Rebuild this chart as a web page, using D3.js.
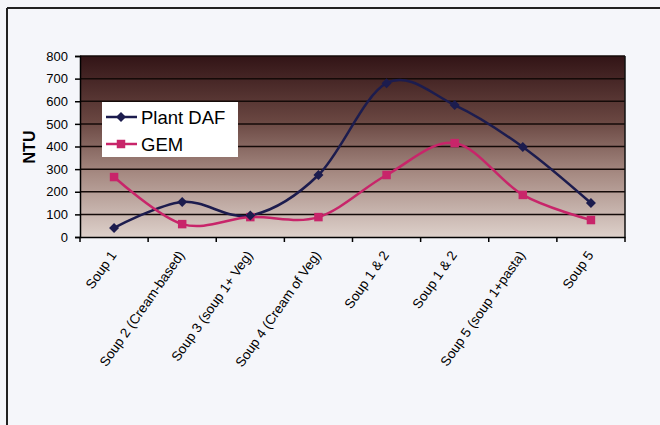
<!DOCTYPE html>
<html><head><meta charset="utf-8">
<script src="https://cdn.jsdelivr.net/npm/d3@7"></script>
<style>body{margin:0;background:#f5f6fa;}svg{display:block;font-family:Arial,"Liberation Sans",sans-serif;}</style>
</head><body>
<svg id="c" width="660" height="425"></svg>
<script>
const categories = ["Soup 1","Soup 2 (Cream-based)","Soup 3 (soup 1+ Veg)","Soup 4 (Cream of Veg)","Soup 1 & 2","Soup 1 & 2 ","Soup 5 (soup 1+pasta)","Soup 5"];
const plantDAF = [40, 155, 95, 274, 680, 583, 398, 150];
const gem = [265, 57, 88, 88, 274, 415, 186, 75];
const yTicks = [0,100,200,300,400,500,600,700,800];
const seriesNames = ["Plant DAF","GEM"];

const svg = d3.select("#c");
svg.append("rect").attr("width",660).attr("height",425).attr("fill","#f5f6fa");
// frame
svg.append("line").attr("x1",7).attr("x2",660).attr("y1",8).attr("y2",8).attr("stroke","#222").attr("stroke-width",2);
svg.append("line").attr("x1",7).attr("x2",7).attr("y1",8).attr("y2",425).attr("stroke","#222").attr("stroke-width",2);

const L=80,R=625,T=56,B=237;
const x = d3.scaleBand().domain(categories).range([L,R]);
const y = d3.scaleLinear().domain([0,800]).range([B,T]);

const defs = svg.append("defs");
const g = defs.append("linearGradient").attr("id","bg").attr("x1",0).attr("x2",0).attr("y1",0).attr("y2",1);
[[0,"#321416"],[0.35,"#684540"],[0.65,"#a68a82"],[1,"#ddd0ca"]].forEach(s=>g.append("stop").attr("offset",s[0]).attr("stop-color",s[1]));
svg.append("rect").attr("x",L).attr("y",T).attr("width",R-L).attr("height",B-T).attr("fill","url(#bg)");

// gridlines
svg.append("g").selectAll("line").data(yTicks.slice(1)).join("line")
  .attr("x1",L).attr("x2",R).attr("y1",d=>y(d)).attr("y2",d=>y(d))
  .attr("stroke","#140a08").attr("stroke-width",1.5);
svg.append("line").attr("x1",R).attr("x2",R).attr("y1",T).attr("y2",B).attr("stroke","#111").attr("stroke-width",1.5);

// y axis
const ya = svg.append("g").attr("transform",`translate(${L},0)`)
  .call(d3.axisLeft(y).tickValues(yTicks).tickSize(5).tickPadding(7));
ya.select(".domain").attr("stroke","#000").attr("stroke-width",1.5);
ya.selectAll(".tick line").attr("stroke","#000").attr("stroke-width",1.5);
ya.selectAll("text").attr("font-size",13).attr("font-family","Arial").attr("fill","#000");

// x axis
const xa = svg.append("g").attr("transform",`translate(0,${B})`)
  .call(d3.axisBottom(x).tickSize(0).tickPadding(0));
xa.select(".domain").attr("stroke","#000").attr("stroke-width",1.5);
xa.selectAll(".tick text").attr("font-size",13.5).attr("fill","#000")
  .attr("text-anchor","end").attr("dy",0).attr("y",0)
  .attr("transform","translate(3,18) rotate(-55)");
// category boundary ticks
svg.append("g").selectAll("line").data(categories.concat(["_end"])).join("line")
  .attr("x1",(d,i)=>L+i*x.bandwidth()).attr("x2",(d,i)=>L+i*x.bandwidth())
  .attr("y1",B).attr("y2",B+5).attr("stroke","#000").attr("stroke-width",1.5);

svg.append("text").attr("transform",`translate(35,147) rotate(-90)`)
  .attr("text-anchor","middle").attr("font-size",16).attr("font-weight","bold").text("NTU");

const line = d3.line().x((d,i)=>x(categories[i])+x.bandwidth()/2).y(d=>y(d)).curve(d3.curveCatmullRom.alpha(0));
const cols = ["#1c1c4e","#c8256a"];
[plantDAF,gem].forEach((s,k)=>{
  svg.append("path").datum(s).attr("d",line).attr("fill","none").attr("stroke",cols[k]).attr("stroke-width",2.5);
});
const diamond = d3.symbol().type(d3.symbolDiamond2).size(64);
const square = d3.symbol().type(d3.symbolSquare).size(72);
svg.append("g").selectAll("path").data(gem).join("path")
  .attr("d",square).attr("fill",cols[1])
  .attr("transform",(d,i)=>`translate(${x(categories[i])+x.bandwidth()/2},${y(d)})`);
svg.append("g").selectAll("path").data(plantDAF).join("path")
  .attr("d",diamond).attr("fill",cols[0])
  .attr("transform",(d,i)=>`translate(${x(categories[i])+x.bandwidth()/2},${y(d)})`);

// legend
const lg = svg.append("g");
lg.append("rect").attr("x",102).attr("y",102).attr("width",136).attr("height",55).attr("fill","#fff");
seriesNames.forEach((n,k)=>{
  const yy = 117+k*27;
  lg.append("line").attr("x1",106).attr("x2",137).attr("y1",yy).attr("y2",yy).attr("stroke",cols[k]).attr("stroke-width",2.5);
  lg.append("path").attr("d",k===0?diamond:square).attr("fill",cols[k]).attr("transform",`translate(121,${yy})`);
  lg.append("text").attr("x",141).attr("y",yy+7).attr("font-size",18.5).attr("fill","#000").text(n);
});
</script>
</body></html>
